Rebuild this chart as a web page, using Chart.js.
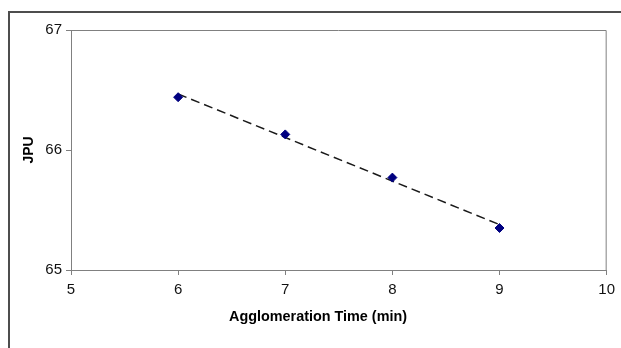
<!DOCTYPE html>
<html>
<head>
<meta charset="utf-8">
<script src="https://cdn.jsdelivr.net/npm/chart.js@4.4.1/dist/chart.umd.min.js"></script>
<style>
  html, body { margin: 0; padding: 0; background: #fff; }
  #wrap { width: 621px; height: 348px; position: relative; }
</style>
</head>
<body>
<div id="wrap"><canvas id="jpuChart" width="621" height="348"></canvas></div>
<script>
  // values
  const times = [6, 7, 8, 9];
  const jpu = [66.44, 66.13, 65.77, 65.35];
  const xTicks = [5, 6, 7, 8, 9, 10];
  const yTicks = [65, 66, 67];

  // linear trendline (least squares, like Excel's)
  const n = times.length;
  const mx = times.reduce((a, b) => a + b, 0) / n;
  const my = jpu.reduce((a, b) => a + b, 0) / n;
  let sxy = 0, sxx = 0;
  for (let i = 0; i < n; i++) {
    sxy += (times[i] - mx) * (jpu[i] - my);
    sxx += (times[i] - mx) * (times[i] - mx);
  }
  const slope = sxy / sxx;
  const trend = [times[0], times[n - 1]].map(x => ({ x: x, y: my + slope * (x - mx) }));

  const axisGray = '#808080';
  const fontFamily = '"Liberation Sans", Arial, sans-serif';

  // outer chart frame, plot-area border and the x title
  const framePlugin = {
    id: 'frame',
    beforeDraw(chart) {
      const c = chart.ctx;
      c.save();
      c.strokeStyle = '#4d4d4d';
      c.lineWidth = 2;
      c.beginPath();
      c.moveTo(9, 400);
      c.lineTo(9, 12);
      c.lineTo(700, 12);
      c.stroke();
      c.restore();
    },
    afterDatasetsDraw(chart) {
      const c = chart.ctx;
      const a = chart.chartArea;
      c.save();
      c.strokeStyle = axisGray;
      c.lineWidth = 1;
      c.beginPath();
      c.moveTo(a.left, a.top + 0.5);
      c.lineTo(a.right - 0.5, a.top + 0.5);
      c.lineTo(a.right - 0.5, a.bottom);
      c.stroke();
      // x title centred on the whole chart frame (Excel style)
      c.fillStyle = '#000';
      c.font = 'bold 14.4px ' + fontFamily;
      c.textAlign = 'center';
      c.textBaseline = 'middle';
      c.fillText('Agglomeration Time (min)', 318, 317);
      c.restore();
    }
  };

  const ctx = document.getElementById('jpuChart').getContext('2d');
  const jpuChart = new Chart(ctx, {
    type: 'scatter',
    data: {
      datasets: [
        {
          label: 'JPU',
          data: times.map((t, i) => ({ x: t, y: jpu[i] })),
          pointStyle: 'rectRot',
          pointRadius: 4.5,
          pointHoverRadius: 4.5,
          backgroundColor: '#000080',
          borderColor: '#000080',
          borderWidth: 1,
          showLine: false,
          order: 1,
        },
        {
          label: 'Trend',
          type: 'line',
          data: trend,
          borderColor: '#1a1a1a',
          borderWidth: 1.5,
          borderDash: [9, 5],
          pointRadius: 0,
          fill: false,
          order: 2,
        },
      ],
    },
    options: {
      responsive: false,
      animation: false,
      layout: { padding: { left: 0, top: 30, right: 14, bottom: 0 } },
      plugins: {
        legend: { display: false },
        tooltip: { enabled: false },
      },
      scales: {
        x: {
          type: 'linear',
          min: 5,
          max: 10,
          afterBuildTicks(scale) { scale.ticks = xTicks.map(v => ({ value: v })); },
          afterFit(scale) { scale.height = 78; },
          ticks: {
            color: '#111',
            font: { family: fontFamily, size: 15 },
            padding: 6,
            maxRotation: 0,
          },
          grid: { drawOnChartArea: false, drawTicks: true, tickLength: 5, color: axisGray },
          border: { color: axisGray },
        },
        y: {
          type: 'linear',
          min: 65,
          max: 67,
          afterBuildTicks(scale) { scale.ticks = yTicks.map(v => ({ value: v })); },
          afterFit(scale) { scale.width = 71; },
          ticks: {
            color: '#111',
            font: { family: fontFamily, size: 15 },
            padding: 4,
          },
          grid: { drawOnChartArea: false, drawTicks: true, tickLength: 5, color: axisGray },
          border: { color: axisGray },
          title: {
            display: true,
            text: 'JPU',
            color: '#000',
            font: { family: fontFamily, size: 14, weight: 'bold' },
            padding: { top: 21, bottom: 0 },
          },
        },
      },
    },
    plugins: [framePlugin],
  });
</script>
</body>
</html>
